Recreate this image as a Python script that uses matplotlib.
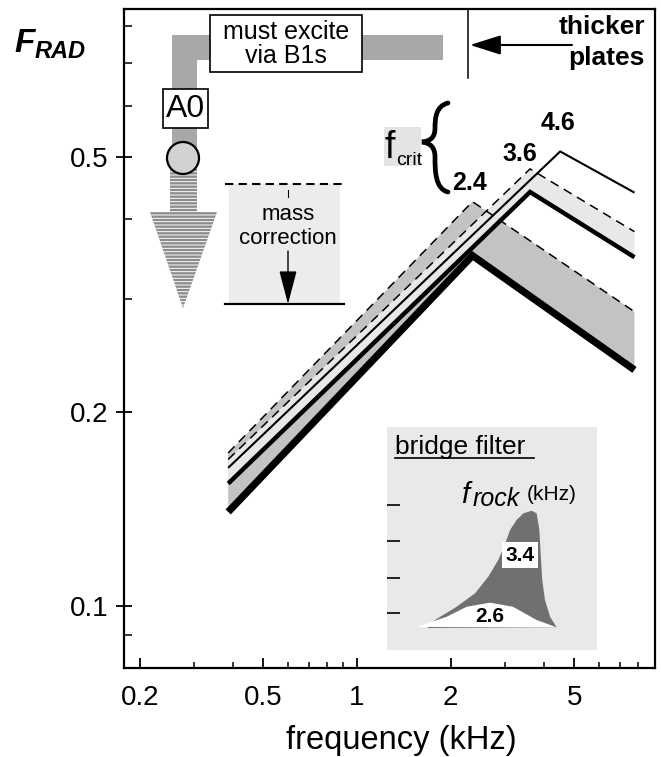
import matplotlib
matplotlib.use("Agg")
import matplotlib.pyplot as plt
from matplotlib.patches import Rectangle, Ellipse, Polygon, FancyArrowPatch, PathPatch
from matplotlib.path import Path
from matplotlib.ticker import FixedLocator, NullFormatter, FixedFormatter

plt.rcParams['font.family'] = ['Liberation Sans', 'DejaVu Sans']

# ---------------- data ----------------
freq_24 = [0.385, 2.35, 7.8]          # kHz, knee at f_crit = 2.4
frad_24_before = [0.173, 0.426, 0.287]  # dashed, before mass correction
frad_24_after = [0.140, 0.351, 0.233]   # thick solid, after mass correction

freq_36 = [0.385, 3.6, 7.8]            # f_crit = 3.6
frad_36_before = [0.169, 0.479, 0.3825]
frad_36_after = [0.155, 0.441, 0.349]

freq_46 = [0.385, 4.5, 7.8]            # f_crit = 4.6
frad_46 = [0.164, 0.51, 0.44]

fcrit_labels = ['4.6', '3.6', '2.4']

x_major = [0.2, 0.5, 1, 2, 5]
x_major_labels = ['0.2', '0.5', '1', '2', '5']
x_minor = [0.3, 0.4, 0.6, 0.7, 0.8, 0.9, 3, 4, 6, 7, 8]
y_major = [0.1, 0.2, 0.5]
y_major_labels = ['0.1', '0.2', '0.5']
y_minor = [0.09, 0.3, 0.4, 0.6, 0.7, 0.8]

# bridge filter sketch (normalised response vs normalised frequency)
bf_x_34 = [0.175, 0.219, 0.354, 0.469, 0.552, 0.614, 0.65, 0.688, 0.729, 0.771,
           0.823, 0.854, 0.871, 0.879, 0.889, 0.906, 0.938, 0.979]
bf_y_34 = [0.016, 0.0625, 0.166, 0.271, 0.401, 0.531, 0.635, 0.766, 0.844, 0.896,
           0.916, 0.896, 0.766, 0.584, 0.375, 0.219, 0.088, 0.005]
bf_x_26 = [0.104, 0.292, 0.417, 0.5625, 0.706, 0.854, 0.979]
bf_y_26 = [0.008, 0.088, 0.166, 0.198, 0.166, 0.0625, 0.005]
bf_ticks = [0.117, 0.39, 0.68, 0.961]

# ---------------- figure ----------------
W, H = 661, 757
DPI = 100
fig = plt.figure(figsize=(W / DPI, H / DPI), dpi=DPI)
AX_L, AX_R, AX_T, AX_B = 124, 655, 9, 668
ax = fig.add_axes([AX_L / W, 1 - AX_B / H, (AX_R - AX_L) / W, (AX_B - AX_T) / H])


def A(px, py):
    return ((px - AX_L) / (AX_R - AX_L), (AX_B - py) / (AX_B - AX_T))


def aw(w):
    return w / (AX_R - AX_L)


def ah(h):
    return h / (AX_B - AX_T)


ax.set_xscale('log')
ax.set_yscale('log')
ax.set_xlim(0.178, 9.08)
ax.set_ylim(0.0800, 0.85)

for s in ax.spines.values():
    s.set_linewidth(1.6)

ax.xaxis.set_major_locator(FixedLocator(x_major))
ax.xaxis.set_major_formatter(FixedFormatter(x_major_labels))
ax.xaxis.set_minor_locator(FixedLocator(x_minor))
ax.xaxis.set_minor_formatter(NullFormatter())
ax.yaxis.set_major_locator(FixedLocator(y_major))
ax.yaxis.set_major_formatter(FixedFormatter(y_major_labels))
ax.yaxis.set_minor_locator(FixedLocator(y_minor))
ax.yaxis.set_minor_formatter(NullFormatter())

ax.tick_params(axis='x', which='major', direction='in', length=7, width=1.3,
               labelsize=20, pad=12)
ax.tick_params(axis='x', which='minor', direction='in', length=4, width=1.1)
ax.tick_params(axis='y', which='major', direction='inout', length=12, width=1.3,
               labelsize=20, pad=5)
ax.tick_params(axis='y', which='minor', direction='in', length=6, width=1.1)

ax.set_xlabel('frequency (kHz)', fontsize=23.5, va='center')
ax.xaxis.set_label_coords(*A(401, 740))

# ---------------- bands ----------------
ax.fill(freq_24 + freq_24[::-1], frad_24_before + frad_24_after[::-1],
        color='#c3c3c3', lw=0, zorder=1)
ax.fill(freq_36 + freq_36[::-1], frad_36_before + frad_36_after[::-1],
        color='#e8e8e8', lw=0, zorder=1.5)

# ---------------- lines ----------------
kw = dict(solid_joinstyle='miter', solid_capstyle='butt', color='black')
ax.plot(freq_24, frad_24_after, lw=5.2, zorder=3, **kw)
ax.plot(freq_36, frad_36_after, lw=3.2, zorder=3, **kw)
ax.plot(freq_46, frad_46, lw=1.5, zorder=3, **kw)
ax.plot(freq_24, frad_24_before, lw=1.1, dashes=(6, 4), color='black', zorder=3,
        dash_joinstyle='miter')
ax.plot(freq_36, frad_36_before, lw=1.1, dashes=(6, 4), color='black', zorder=3,
        dash_joinstyle='miter')

# f_crit labels
for lab, (px, py) in zip(fcrit_labels, [(558, 123), (520, 154), (470, 183)]):
    ax.text(*A(px, py), lab, transform=ax.transAxes, ha='center', va='center',
            fontsize=18, fontweight='bold', zorder=5)

# f_crit label with brace
ax.add_patch(Rectangle(A(384, 166), aw(37), ah(39), transform=ax.transAxes,
                       color='#e4e4e4', lw=0, zorder=1))
ax.text(*A(385, 158), 'f', transform=ax.transAxes, ha='left', va='baseline',
        fontsize=27, zorder=5)
ax.text(*A(396, 165), 'crit', transform=ax.transAxes, ha='left', va='baseline',
        fontsize=14, zorder=5)

brace_pts = [A(448, 103), A(436, 106), A(435, 118), A(435, 128),
             A(435, 138), A(430, 141), A(422, 142),
             A(430, 143), A(435, 147), A(435, 157),
             A(435, 170), A(435, 189), A(448, 192)]
brace_codes = [Path.MOVETO, Path.CURVE4, Path.CURVE4, Path.CURVE4,
               Path.CURVE4, Path.CURVE4, Path.CURVE4,
               Path.CURVE4, Path.CURVE4, Path.CURVE4,
               Path.CURVE4, Path.CURVE4, Path.CURVE4]
ax.add_patch(PathPatch(Path(brace_pts, brace_codes), transform=ax.transAxes,
                       fill=False, lw=3.4, color='black', capstyle='round',
                       clip_on=False, zorder=5))

# ---------------- A0 / B1s schematic ----------------
bar_c = '#a8a8a8'
ax.add_patch(Rectangle(A(172, 60), aw(443 - 172), ah(25), transform=ax.transAxes,
                       color=bar_c, lw=0, zorder=2))
ax.add_patch(Rectangle(A(172, 176), aw(25), ah(176 - 35), transform=ax.transAxes,
                       color=bar_c, lw=0, zorder=2))
ax.add_patch(Rectangle(A(210, 72), aw(152), ah(57), transform=ax.transAxes,
                       facecolor='white', edgecolor='black', lw=1.2, zorder=4))
ax.text(*A(286, 44), 'must excite\nvia B1s', transform=ax.transAxes,
        ha='center', va='center', fontsize=18, linespacing=1.0, zorder=5)
ax.add_patch(Rectangle(A(163, 128), aw(45), ah(39), transform=ax.transAxes,
                       facecolor='white', edgecolor='black', lw=1.2, zorder=4))
ax.text(*A(185.5, 109), 'A0', transform=ax.transAxes, ha='center', va='center',
        fontsize=23, zorder=5)

plt.rcParams['hatch.linewidth'] = 0.7
arrow_poly = [A(170, 168), A(197, 168), A(197, 212), A(217, 212), A(183, 308),
              A(150, 212), A(170, 212)]
ax.add_patch(Polygon(arrow_poly, closed=True, transform=ax.transAxes,
                     facecolor='#8c8c8c', edgecolor='white', lw=0,
                     hatch='-----', zorder=3))
ax.add_patch(Ellipse(A(183, 158), aw(32), ah(32), transform=ax.transAxes,
                     facecolor='#d2d2d2', edgecolor='black', lw=1.6, zorder=4))

# thicker plates
ax.plot([A(468, 9)[0], A(468, 78)[0]], [A(468, 9)[1], A(468, 78)[1]],
        transform=ax.transAxes, color='black', lw=1.1, zorder=4)
ax.add_patch(FancyArrowPatch(A(572, 45), A(470, 45), transform=ax.transAxes,
                             arrowstyle='-|>,head_length=1.9,head_width=0.6',
                             mutation_scale=10, lw=1.5, color='black',
                             shrinkA=0, shrinkB=0, zorder=4))
ax.text(*A(645, 27), 'thicker', transform=ax.transAxes, ha='right', va='center',
        fontsize=19, fontweight='bold', zorder=5)
ax.text(*A(645, 58), 'plates', transform=ax.transAxes, ha='right', va='center',
        fontsize=19, fontweight='bold', zorder=5)

# mass correction
ax.add_patch(Rectangle(A(229, 305), aw(111), ah(305 - 184), transform=ax.transAxes,
                       color='#ececec', lw=0, zorder=1))
ax.plot([A(225, 184)[0], A(344, 184)[0]], [A(225, 184)[1]] * 2,
        transform=ax.transAxes, color='black', lw=1.5, dashes=(4, 2.5), zorder=4)
ax.plot([A(225, 304)[0], A(344, 304)[0]], [A(225, 304)[1]] * 2,
        transform=ax.transAxes, color='black', lw=1.6, zorder=4)
ax.plot([A(288, 190)[0]] * 2, [A(288, 190)[1], A(288, 197)[1]],
        transform=ax.transAxes, color='black', lw=0.8, zorder=4)
ax.text(*A(288, 214), 'mass', transform=ax.transAxes, ha='center', va='center',
        fontsize=16, zorder=5)
ax.text(*A(288, 239), 'correction', transform=ax.transAxes, ha='center',
        va='center', fontsize=16, zorder=5)
ax.add_patch(FancyArrowPatch(A(288, 251), A(288, 304), transform=ax.transAxes,
                             arrowstyle='-|>,head_length=2.1,head_width=0.55',
                             mutation_scale=10, lw=1.0, color='black',
                             shrinkA=0, shrinkB=0, zorder=4))

# ---------------- bridge filter inset ----------------
ax.add_patch(Rectangle(A(387, 650), aw(210), ah(223), transform=ax.transAxes,
                       color='#e9e9e9', lw=0, zorder=1))
ax.text(*A(395, 447), 'bridge filter', transform=ax.transAxes, ha='left',
        va='center', fontsize=19, zorder=5)
ax.plot([A(395, 458)[0], A(534, 458)[0]], [A(395, 458)[1]] * 2,
        transform=ax.transAxes, color='black', lw=1.2, zorder=5)
ax.text(*A(461, 503), 'f', transform=ax.transAxes, ha='left', va='baseline',
        fontsize=21, style='italic', zorder=5)
ax.text(*A(473, 506), 'rock', transform=ax.transAxes, ha='left', va='baseline',
        fontsize=18, style='italic', zorder=5)
ax.text(*A(527, 500), '(kHz)', transform=ax.transAxes, ha='left', va='baseline',
        fontsize=15, zorder=5)

bx = fig.add_axes([400 / W, 1 - 628 / H, 160 / W, 128 / H])
bx.set_xlim(0, 1)
bx.set_ylim(0, 1)
bx.patch.set_alpha(0)
for s in bx.spines.values():
    s.set_visible(False)
bx.set_xticks([])
bx.set_yticks(bf_ticks)
bx.set_yticklabels([])
bx.tick_params(axis='y', direction='out', length=9.5, width=1.4, color='#222222')
bx.fill(bf_x_34 + [bf_x_34[0]], bf_y_34 + [0.0], color='#707070', lw=0)
bx.fill(bf_x_26, bf_y_26, color='white', lw=0)
bx.text(0.5625, 0.09, '2.6', ha='center', va='center', fontsize=15,
        fontweight='bold')
bx.text(0.75, 0.57, '3.4', ha='center', va='center', fontsize=15,
        fontweight='bold', zorder=7,
        bbox=dict(boxstyle='square,pad=0.15', facecolor='white', lw=0))

# ---------------- y label ----------------
fig.text(14 / W, 1 - 52 / H, 'F', fontsize=24, fontweight='bold', style='italic',
         ha='left', va='baseline')
fig.text(35 / W, 1 - 58 / H, 'RAD', fontsize=17, fontweight='bold',
         style='italic', ha='left', va='baseline')

fig.savefig('out.png', dpi=DPI)
